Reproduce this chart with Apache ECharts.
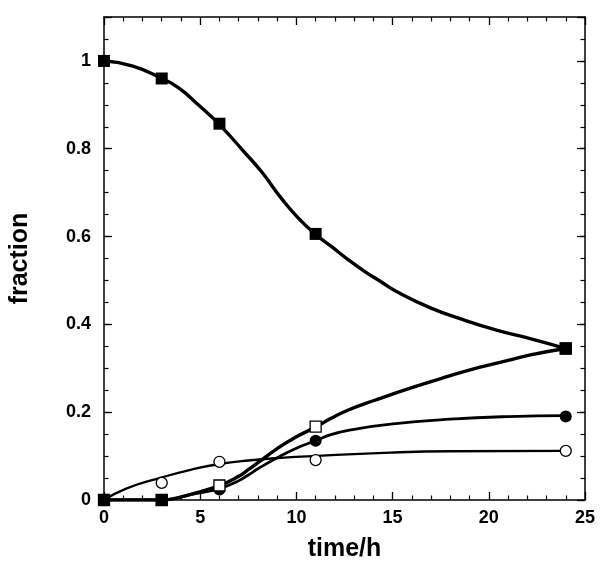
<!DOCTYPE html>
<html>
<head>
<meta charset="utf-8">
<script src="https://cdn.jsdelivr.net/npm/echarts@6/dist/echarts.min.js"></script>
<style>html,body{margin:0;padding:0;background:#fff}#c{width:600px;height:567px}</style>
</head>
<body>
<div id="c"></div>
<script>
// measured points
const timePoints = [0, 3, 6, 11, 24];
const filledSquares = [1.0, 0.96, 0.857, 0.606, 0.345];
const openSquares = [0, 0, 0.033, 0.167, 0.345];
const filledCircles = [0, 0, 0.024, 0.135, 0.19];
const openCircles = [0, 0.039, 0.087, 0.091, 0.112];
const zeroSquareTimes = [0, 3];
const zeroSquareValues = [0, 0];

// fitted curves
const curveA_t = [0, 1.5, 3, 3.9, 4.9, 6, 7.2, 8.2, 9.2, 10.1, 11, 11.8, 12.7, 13.5, 14.4, 15.2, 17, 18.7, 20.4, 22.1, 24];
const curveA_f = [1.0, 0.988, 0.96, 0.938, 0.9, 0.855, 0.797, 0.747, 0.688, 0.642, 0.605, 0.578, 0.547, 0.522, 0.497, 0.475, 0.437, 0.41, 0.387, 0.368, 0.345];
const curveB_t = [0, 3, 3.5, 4.5, 6, 7, 7.5, 8, 9, 10, 11, 11.8, 12.7, 14, 16, 18, 19.5, 21, 22.1, 24];
const curveB_f = [0, 0, 0.002, 0.013, 0.033, 0.054, 0.069, 0.085, 0.117, 0.144, 0.166, 0.186, 0.205, 0.226, 0.256, 0.283, 0.302, 0.318, 0.33, 0.345];
const curveC_t = [0, 3, 3.5, 4.5, 6, 7, 7.5, 8, 9, 10, 11, 11.8, 13, 14.9, 18, 21, 24];
const curveC_f = [0, 0, 0.002, 0.012, 0.026, 0.044, 0.057, 0.071, 0.096, 0.118, 0.135, 0.149, 0.161, 0.173, 0.184, 0.19, 0.192];
const curveD_t = [0, 1.15, 2.87, 4.6, 6, 7.5, 9.2, 10.9, 11.8, 14.9, 18, 24];
const curveD_f = [0, 0.026, 0.05, 0.07, 0.082, 0.09, 0.096, 0.1, 0.102, 0.108, 0.111, 0.112];

const yMajorTicks = [0, 0.2, 0.4, 0.6, 0.8, 1];

const zip = (a, b) => a.map((v, i) => [v, b[i]]);
const FONT = 'Liberation Sans, Arial, Helvetica, sans-serif';

function xAx(pos, labels) {
  return {
    type: 'value', position: pos, min: 0, max: 25, interval: 5,
    axisLine: { show: true, onZero: false, lineStyle: { color: '#000', width: 1.5 } },
    axisTick: { show: true, inside: true, length: 8, lineStyle: { color: '#000', width: 1.3 } },
    minorTick: { show: true, splitNumber: 5, length: 4.5, lineStyle: { color: '#000', width: 1.2 } },
    splitLine: { show: false }, minorSplitLine: { show: false },
    axisLabel: labels ? { show: true, color: '#000', fontSize: 18, fontWeight: 'bold', fontFamily: FONT, margin: 9 } : { show: false },
    name: labels ? 'time/h' : '', nameLocation: 'middle', nameGap: 37,
    nameTextStyle: { color: '#000', fontSize: 25, fontWeight: 'bold', fontFamily: FONT }
  };
}
function yAx(pos, major, labels) {
  return {
    type: 'value', position: pos, min: 0, max: 1.1, interval: major ? 0.2 : 0.05,
    axisLine: { show: major, onZero: false, lineStyle: { color: '#000', width: 1.5 } },
    axisTick: { show: true, inside: true, length: major ? 8 : 4.5, lineStyle: { color: '#000', width: major ? 1.3 : 1.2 } },
    splitLine: { show: false },
    axisLabel: labels ? {
      show: true, color: '#000', fontSize: 18, fontWeight: 'bold', fontFamily: FONT, margin: 13,
      formatter: v => (yMajorTicks.some(t => Math.abs(t - v) < 1e-6) ? String(Math.round(v * 10) / 10) : '')
    } : { show: false },
    name: labels ? 'fraction' : '', nameLocation: 'middle', nameGap: 71,
    nameTextStyle: { color: '#000', fontSize: 25, fontWeight: 'bold', fontFamily: FONT }
  };
}

function curve(t, f, w) {
  return {
    type: 'line', data: zip(t, f), showSymbol: false, symbol: 'none',
    smooth: 0.5,
    lineStyle: { color: '#000', width: w, cap: 'round', join: 'round' }, z: 2, silent: true
  };
}
function marks(t, f, symbol, size, filled) {
  return {
    type: 'scatter', data: zip(t, f), symbol: symbol, symbolSize: size,
    itemStyle: filled ? { color: '#000', borderColor: '#000', borderWidth: 0, opacity: 1 } : { color: '#fff', borderColor: '#000', borderWidth: 1.3, opacity: 1 },
    z: 5, silent: true
  };
}

const chart = echarts.init(document.getElementById('c'), null, { renderer: 'canvas' });
chart.setOption({
  animation: false,
  backgroundColor: '#fff',
  grid: { left: 101, right: 15, top: 17, bottom: 67, containLabel: false },
  xAxis: [xAx('bottom', true), xAx('top', false)],
  yAxis: [yAx('left', true, true), yAx('left', false, false), yAx('right', true, false), yAx('right', false, false)],
  series: [
    curve(curveD_t, curveD_f, 2.3),
    curve(curveC_t, curveC_f, 2.8),
    curve(curveB_t, curveB_f, 3.4),
    curve(curveA_t, curveA_f, 3.4),
    marks(timePoints, openCircles, 'circle', 11, false),
    marks(timePoints, filledCircles, 'circle', 12, true),
    marks(timePoints, openSquares, 'rect', 11, false),
    marks(zeroSquareTimes, zeroSquareValues, 'rect', 12, true),
    marks(timePoints, filledSquares, 'rect', 12, true)
  ]
});
</script>
</body>
</html>
